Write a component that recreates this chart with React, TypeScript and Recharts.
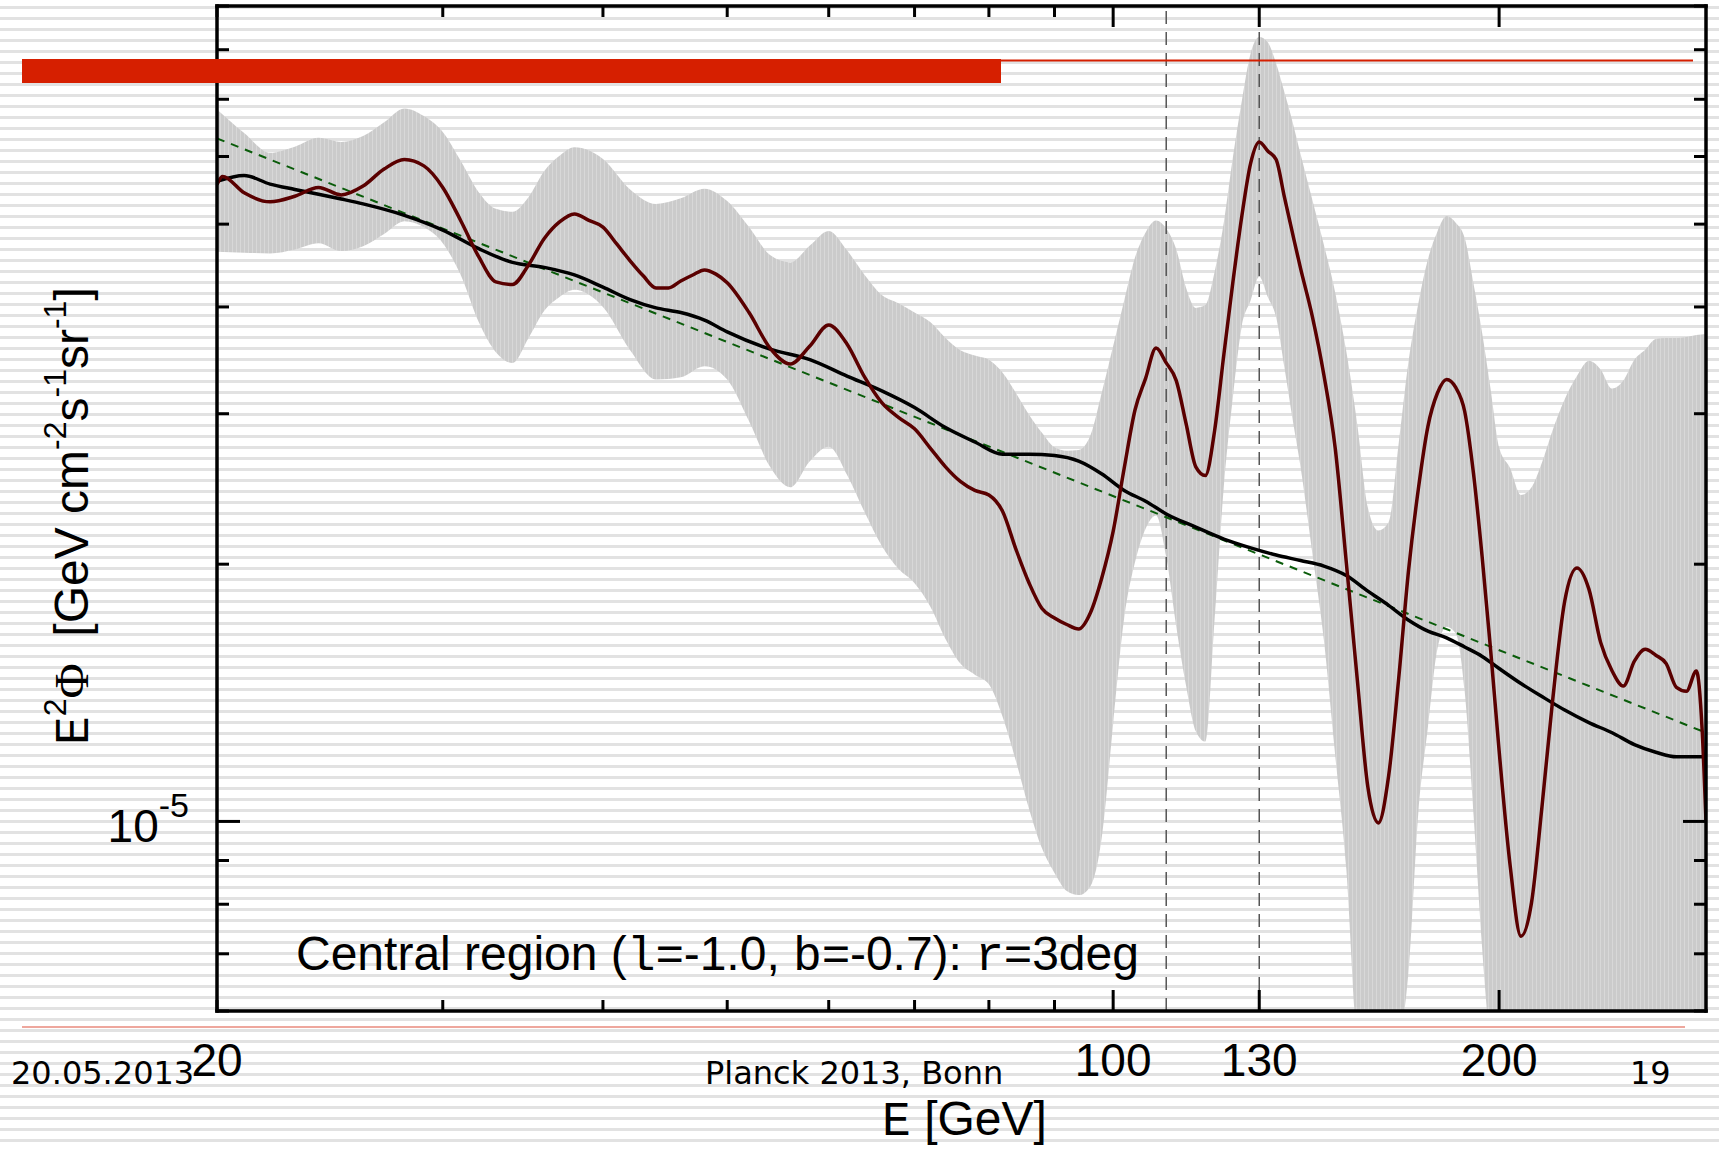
import React from 'react';
import { ComposedChart, Area, Line, XAxis, YAxis, ReferenceLine } from 'recharts';

// flux values are in units of 1e-5 GeV cm^-2 s^-1 sr^-1
const bandE = [20, 21, 22, 23, 24, 25, 26, 27, 28, 29, 30, 31, 32, 33, 34, 35, 36, 37, 38, 40, 42, 44, 46, 48, 50, 52, 54, 56, 58, 60, 62, 64, 66, 68, 70, 72, 74, 76, 78, 80, 82, 84, 86, 88, 90, 92, 94, 96, 98, 100, 102, 104, 106, 108, 110, 112, 114, 116, 118, 120, 122, 124, 126, 128, 130, 132, 134, 136, 138, 140, 143, 146, 149, 152, 155, 158, 161, 164, 167, 170, 173, 176, 179, 182, 185, 188, 191, 194, 197, 200, 204, 208, 212, 216, 220, 225, 230, 235, 240, 245, 250, 255, 260, 265, 270, 275, 280, 285, 290];
const bandHigh = [6.81, 6.39, 6.06, 6.16, 6.31, 6.24, 6.34, 6.58, 6.83, 6.69, 6.41, 5.92, 5.45, 5.21, 5.17, 5.38, 5.77, 6.01, 6.15, 5.96, 5.49, 5.28, 5.36, 5.5, 5.32, 4.96, 4.6, 4.51, 4.72, 4.91, 4.66, 4.36, 4.13, 4.04, 3.94, 3.84, 3.68, 3.56, 3.51, 3.47, 3.35, 3.17, 2.99, 2.85, 2.74, 2.715, 2.72, 2.83, 3.18, 3.6, 4.07, 4.57, 4.89, 5.05, 4.94, 4.67, 4.21, 3.99, 4.02, 4.4, 5.03, 5.99, 6.97, 7.92, 8.28, 8.16, 7.71, 7.14, 6.59, 6.04, 5.34, 4.73, 4.16, 3.55, 2.92, 2.33, 2.19, 2.24, 2.77, 3.46, 4.04, 4.55, 4.9, 5.11, 5.02, 4.82, 4.26, 3.73, 3.2, 2.74, 2.59, 2.41, 2.46, 2.63, 2.86, 3.12, 3.32, 3.46, 3.38, 3.21, 3.28, 3.47, 3.565, 3.67, 3.68, 3.68, 3.69, 3.71, 3.72];
const bandLow = [4.64, 4.63, 4.62, 4.67, 4.75, 4.65, 4.71, 4.87, 5.04, 4.96, 4.75, 4.35, 3.84, 3.54, 3.44, 3.68, 3.96, 4.11, 4.19, 4.0, 3.56, 3.29, 3.31, 3.41, 3.29, 2.94, 2.6, 2.46, 2.64, 2.745, 2.545, 2.3, 2.1, 1.975, 1.9, 1.785, 1.635, 1.53, 1.485, 1.447, 1.325, 1.175, 1.033, 0.93, 0.87, 0.829, 0.82, 0.84, 0.96, 1.3, 1.73, 2.01, 2.2, 2.28, 2.04, 1.69, 1.44, 1.275, 1.24, 1.73, 2.47, 3.14, 3.8, 4.07, 4.34, 4.11, 3.89, 3.4, 2.96, 2.6, 2.06, 1.63, 1.195, 0.88, 0.55, 0.49, 0.42, 0.47, 0.54, 0.67, 1.025, 1.29, 1.59, 1.69, 1.66, 1.42, 1.02, 0.71, 0.53, 0.41, 0.4, 0.4, 0.4, 0.4, 0.4, 0.4, 0.4, 0.4, 0.4, 0.4, 0.4, 0.4, 0.4, 0.4, 0.4, 0.4, 0.4, 0.4, 0.4];

const spectrumE = [20, 20.2, 21, 22, 23, 24, 25, 26, 27, 28, 29, 30, 31, 32, 33, 34, 35, 36, 37, 38, 39, 40, 41, 42, 43, 44, 45, 46, 47, 48, 49, 50, 52, 54, 56, 58, 60, 62, 64, 66, 68, 70, 72, 74, 76, 78, 80, 82, 84, 86, 88, 90, 92, 94, 96, 98, 100, 102, 104, 106, 108, 110, 112, 114, 116, 118, 120, 122, 124, 126, 128, 130, 132, 134, 136, 138, 140, 143, 146, 149, 152, 155, 158, 161, 164, 167, 170, 173, 176, 179, 182, 185, 188, 191, 194, 197, 200, 204, 208, 212, 216, 220, 225, 230, 235, 240, 245, 250, 255, 260, 265, 270, 275, 280, 285, 288, 290];
const spectrumFlux = [5.565, 5.685, 5.44, 5.31, 5.39, 5.52, 5.41, 5.54, 5.8, 5.95, 5.85, 5.52, 5.04, 4.58, 4.28, 4.25, 4.48, 4.81, 5.03, 5.14, 5.05, 4.96, 4.74, 4.53, 4.35, 4.21, 4.21, 4.29, 4.36, 4.42, 4.37, 4.27, 3.94, 3.58, 3.43, 3.6, 3.81, 3.62, 3.31, 3.09, 2.97, 2.88, 2.735, 2.6, 2.5, 2.44, 2.41, 2.305, 2.08, 1.9, 1.775, 1.73, 1.7, 1.68, 1.755, 1.93, 2.185, 2.59, 3.03, 3.3, 3.58, 3.44, 3.28, 2.92, 2.6, 2.54, 2.87, 3.52, 4.28, 5.11, 5.89, 6.24, 6.09, 5.95, 5.38, 4.88, 4.44, 3.9, 3.33, 2.735, 2.01, 1.47, 1.097, 0.996, 1.13, 1.47, 1.97, 2.45, 2.9, 3.17, 3.29, 3.22, 3.02, 2.555, 2.04, 1.584, 1.21, 0.888, 0.734, 0.804, 1.04, 1.37, 1.81, 1.98, 1.87, 1.62, 1.5, 1.44, 1.54, 1.59, 1.565, 1.53, 1.435, 1.42, 1.5, 1.28, 1.0];

const modelE = [20, 21, 22, 23, 24, 25, 26, 28, 30, 32, 34, 36, 38, 40, 42, 44, 46, 48, 50, 54, 58, 62, 66, 70, 74, 78, 82, 86, 90, 94, 98, 102, 106, 110, 116, 122, 128, 134, 140, 146, 152, 158, 164, 170, 176, 182, 188, 194, 200, 208, 216, 225, 235, 245, 255, 265, 275, 285, 290];
const modelFlux = [5.61, 5.7, 5.57, 5.49, 5.42, 5.35, 5.28, 5.12, 4.92, 4.68, 4.51, 4.45, 4.36, 4.22, 4.08, 3.99, 3.94, 3.86, 3.74, 3.57, 3.47, 3.32, 3.19, 3.05, 2.89, 2.78, 2.69, 2.69, 2.68, 2.64, 2.55, 2.44, 2.37, 2.29, 2.21, 2.14, 2.09, 2.05, 2.02, 1.99, 1.94, 1.86, 1.79, 1.72, 1.67, 1.64, 1.6, 1.56, 1.51, 1.45, 1.4, 1.35, 1.305, 1.27, 1.23, 1.205, 1.19, 1.19, 1.19];

const fitE = [20, 290];
const fitFlux = [6.3, 1.27];

const markerE = [110, 130];

const xTicks = [20, 30, 40, 50, 60, 70, 80, 90, 100, 130, 200];
const xMajor = [100, 130, 200];
const xLabels = [20, 100, 130, 200];
const yTicks = [0.6, 0.7, 0.8, 0.9, 1, 2, 3, 4, 5, 6, 7, 8, 9];

const band = bandE.map((e, i) => ({ e, range: [bandLow[i], bandHigh[i]] }));
const spectrum = spectrumE.map((e, i) => ({ e, v: spectrumFlux[i] }));
const model = modelE.map((e, i) => ({ e, v: modelFlux[i] }));
const fit = fitE.map((e, i) => ({ e, v: fitFlux[i] }));

const SANS = 'Liberation Sans, Arial, Helvetica, sans-serif';
const MONO = 'Liberation Mono, Courier New, monospace';
const SERIF = 'Liberation Serif, Times New Roman, serif';
const DEJA = 'DejaVu Sans, Verdana, sans-serif';

const BottomTick = (props: any) => {
  const { x, y, payload } = props;
  const v = payload.value;
  const len = xMajor.includes(v) ? 21 : 11;
  return (
    <g>
      <line x1={x} x2={x} y1={y} y2={y - len} stroke='#000' strokeWidth={3} />
      {xLabels.includes(v) && (
        <text x={x} y={y + 65} textAnchor='middle' fontSize={46} fontFamily={SANS} fill='#000'>
          {v}
        </text>
      )}
    </g>
  );
};

const TopTick = (props: any) => {
  const { x, y, payload } = props;
  const len = xMajor.includes(payload.value) ? 21 : 11;
  return <line x1={x} x2={x} y1={y} y2={y + len} stroke='#000' strokeWidth={3} />;
};

const LeftTick = (props: any) => {
  const { x, y, payload } = props;
  const major = payload.value === 1;
  return (
    <g>
      <line x1={x} x2={x + (major ? 23 : 12)} y1={y} y2={y} stroke='#000' strokeWidth={3} />
      {major && (
        <text x={x - 28} y={y + 21} textAnchor='end' fontSize={46} fontFamily={SANS} fill='#000'>
          10
          <tspan dy={-25} fontSize={34}>
            -5
          </tspan>
        </text>
      )}
    </g>
  );
};

const RightTick = (props: any) => {
  const { x, y, payload } = props;
  const len = payload.value === 1 ? 23 : 12;
  return <line x1={x} x2={x - len} y1={y} y2={y} stroke='#000' strokeWidth={3} />;
};

const frame = { stroke: '#000', strokeWidth: 3.5, strokeLinecap: 'square' as const };

export default function App() {
  return (
    <div
      style={{
        position: 'fixed',
        left: 0,
        top: 0,
        width: 1719,
        height: 1149,
        background:
          'repeating-linear-gradient(to bottom, #fff 0px, #fff 5.6px, #e2e2e2 5.6px, #e2e2e2 9px, #fff 9px, #fff 11px)',
      }}
    >
      <ComposedChart width={1719} height={1149} margin={{ top: 5, right: 12, bottom: 0, left: 0 }}>
        <defs>
          <pattern id='hatch' width='4' height='10' patternUnits='userSpaceOnUse'>
            <rect width='4' height='10' fill='#cbcbcb' />
            <rect width='1' height='10' fill='#d8d8d8' />
          </pattern>
        </defs>
        <XAxis
          dataKey='e'
          type='number'
          scale='log'
          domain={[20, 290]}
          allowDataOverflow
          ticks={xTicks}
          interval={0}
          height={138}
          tickSize={0}
          tickMargin={0}
          tickLine={false}
          axisLine={frame}
          tick={<BottomTick />}
        />
        <XAxis
          xAxisId='top'
          orientation='top'
          dataKey='e'
          type='number'
          scale='log'
          domain={[20, 290]}
          allowDataOverflow
          ticks={xTicks}
          interval={0}
          height={1}
          tickSize={0}
          tickMargin={0}
          tickLine={false}
          axisLine={frame}
          tick={<TopTick />}
        />
        <YAxis
          type='number'
          scale='log'
          domain={[0.6, 9]}
          allowDataOverflow
          ticks={yTicks}
          interval={0}
          width={217}
          tickSize={0}
          tickMargin={0}
          tickLine={false}
          axisLine={frame}
          tick={<LeftTick />}
        />
        <YAxis
          yAxisId='right'
          orientation='right'
          type='number'
          scale='log'
          domain={[0.6, 9]}
          allowDataOverflow
          ticks={yTicks}
          interval={0}
          width={1}
          tickSize={0}
          tickMargin={0}
          tickLine={false}
          axisLine={frame}
          tick={<RightTick />}
        />
        <Area
          data={band}
          dataKey='range'
          type='monotoneX'
          stroke='none'
          fill='url(#hatch)'
          fillOpacity={1}
          isAnimationActive={false}
        />
        {markerE.map((e) => (
          <ReferenceLine key={e} x={e} stroke='#555' strokeWidth={1.5} strokeDasharray='13 8' />
        ))}
        <Line
          data={fit}
          dataKey='v'
          type='linear'
          stroke='#0a5c0a'
          strokeWidth={2}
          strokeDasharray='8 7'
          dot={false}
          isAnimationActive={false}
        />
        <Line
          data={model}
          dataKey='v'
          type='monotoneX'
          stroke='#000'
          strokeWidth={3.5}
          dot={false}
          isAnimationActive={false}
        />
        <Line
          data={spectrum}
          dataKey='v'
          type='monotoneX'
          stroke='#5a0000'
          strokeWidth={3.5}
          dot={false}
          isAnimationActive={false}
        />
      </ComposedChart>
      <svg
        width={1719}
        height={1149}
        style={{ position: 'absolute', left: 0, top: 0, pointerEvents: 'none' }}
      >
        <rect x={22} y={59} width={979} height={24} fill='#d61f00' />
        <line x1={1000} x2={1693} y1={60.5} y2={60.5} stroke='#d61f00' strokeWidth={2} />
        <line x1={22} x2={1685} y1={1027} y2={1027} stroke='#e98a7c' strokeWidth={1.5} />
        <text x={296} y={970} fontSize={48} fontFamily={SANS} fill='#000'>
          {'Central region ('}
          <tspan fontFamily={MONO}>l</tspan>
          {'=-1.0, '}
          <tspan fontFamily={MONO}>b</tspan>
          {'=-0.7): '}
          <tspan fontFamily={MONO}>r</tspan>
          {'=3deg'}
        </text>
        <text x={882} y={1135} fontSize={48} fontFamily={SANS} fill='#000'>
          <tspan fontFamily={MONO}>E</tspan>
          {' [GeV]'}
        </text>
        <text transform='translate(88,745) rotate(-90)' fontSize={48} fontFamily={SANS} fill='#000'>
          <tspan fontFamily={MONO}>E</tspan>
          <tspan dy={-22} fontSize={32}>
            2
          </tspan>
          <tspan dy={22} fontFamily={SERIF}>
            Φ
          </tspan>
          <tspan>{'\u00a0\u00a0[GeV cm'}</tspan>
          <tspan dy={-22} fontSize={32}>
            -2
          </tspan>
          <tspan dy={22}>s</tspan>
          <tspan dy={-22} fontSize={32}>
            -1
          </tspan>
          <tspan dy={22}>sr</tspan>
          <tspan dy={-22} fontSize={32}>
            -1
          </tspan>
          <tspan dy={22}>]</tspan>
        </text>
        <text x={11} y={1084} fontSize={32} fontFamily={DEJA} fill='#000'>
          20.05.2013
        </text>
        <text x={705} y={1084} fontSize={32} fontFamily={DEJA} fill='#000'>
          Planck 2013, Bonn
        </text>
        <text x={1630} y={1084} fontSize={32} fontFamily={DEJA} fill='#000'>
          19
        </text>
      </svg>
    </div>
  );
}
